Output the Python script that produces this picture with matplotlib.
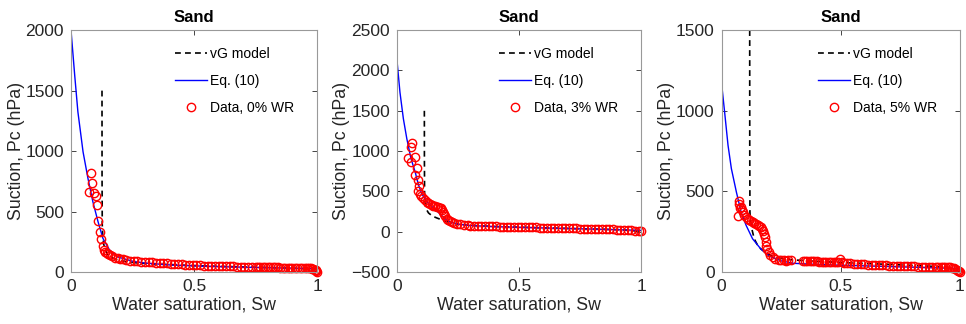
import matplotlib
matplotlib.use("Agg")
import matplotlib.pyplot as plt

plt.rcParams['font.family'] = ['Liberation Sans', 'DejaVu Sans']
plt.rcParams['font.size'] = 11

# ---- 0% WR ----
vg_sw_0 = [0.126, 0.1262, 0.127, 0.129, 0.133, 0.14, 0.15, 0.165, 0.19, 0.22, 0.26, 0.3, 0.4, 0.5, 0.6, 0.7, 0.8, 0.9, 0.96, 1.0]
vg_pc_0 = [1500, 800, 390, 300, 230, 180, 145, 120, 100, 88, 78, 72, 62, 54, 48, 43, 38, 33, 28, 0]
eq_sw_0 = [0.0, 0.015, 0.028, 0.049, 0.069, 0.089, 0.11, 0.13, 0.157, 0.19, 0.25, 0.3, 0.4, 0.5, 0.6, 0.7, 0.8, 0.9, 1.0]
eq_pc_0 = [2000, 1628, 1325, 994, 774, 581, 416, 278, 182, 126, 90, 75, 60, 52, 46, 41, 37, 33, 28]
data_sw_0 = [0.074, 0.081, 0.087, 0.095, 0.102, 0.107, 0.108, 0.118, 0.123, 0.129, 0.135, 0.14, 0.145,
             0.152, 0.159, 0.168, 0.179, 0.189, 0.199, 0.21, 0.225, 0.24, 0.255, 0.27, 0.285, 0.30,
             0.315, 0.33, 0.345, 0.36, 0.375, 0.39, 0.405, 0.42, 0.435, 0.45, 0.465, 0.48, 0.495,
             0.51, 0.525, 0.54, 0.555, 0.57, 0.585, 0.60, 0.615, 0.63, 0.645, 0.66, 0.675, 0.69,
             0.705, 0.72, 0.735, 0.75, 0.76, 0.77, 0.78, 0.79, 0.80, 0.81, 0.82, 0.83, 0.84, 0.85,
             0.86, 0.87, 0.88, 0.89, 0.90, 0.91, 0.92, 0.93, 0.94, 0.95, 0.96, 0.967, 0.974,
             0.98, 0.985, 0.99, 0.994, 0.997, 1.0]
data_pc_0 = [661, 820, 733, 655, 628, 553, 419, 328, 270, 215, 182, 170, 160,
             150, 140, 130, 121, 115, 110, 105, 100, 96, 93, 90, 87, 84,
             82, 80, 78, 76, 74, 72, 70, 68, 66, 64, 62, 60, 58,
             57, 56, 55, 54, 53, 52, 51, 50, 49, 48, 47, 46, 46,
             45, 44, 43, 43, 42, 42, 41, 41, 40, 40, 39, 39, 39, 38,
             38, 37, 37, 36, 36, 35, 35, 35, 34, 34, 33, 32, 31,
             29, 26, 21, 14, 7, 0]

# ---- 3% WR ----
vg_sw_3 = [0.112, 0.1122, 0.113, 0.115, 0.12, 0.129, 0.145, 0.163, 0.19, 0.22, 0.26, 0.3, 0.4, 0.5, 0.6, 0.7, 0.8, 0.9, 0.96, 1.0]
vg_pc_3 = [1500, 900, 420, 340, 280, 234, 195, 172, 140, 112, 92, 80, 66, 57, 49, 42, 35, 27, 18, 0]
eq_sw_3 = [0.0, 0.012, 0.026, 0.040, 0.057, 0.074, 0.088, 0.1, 0.12, 0.14, 0.16, 0.18, 0.2, 0.22, 0.25, 0.3, 0.4, 0.5, 0.6, 0.7, 0.8, 0.9, 1.0]
eq_pc_3 = [2119, 1730, 1402, 1156, 910, 745, 582, 480, 380, 320, 270, 210, 155, 118, 95, 78, 64, 56, 48, 41, 34, 26, 18]
data_sw_3 = [0.046, 0.056, 0.057, 0.063, 0.074, 0.080, 0.074, 0.085, 0.091, 0.087, 0.095, 0.10,
             0.107, 0.115, 0.121, 0.128, 0.135, 0.142, 0.149, 0.156, 0.162, 0.168, 0.175, 0.18,
             0.183, 0.188, 0.192, 0.197, 0.203, 0.21, 0.217, 0.225, 0.235, 0.245, 0.26, 0.275,
             0.29, 0.30, 0.315, 0.33, 0.345, 0.36, 0.375, 0.39, 0.405, 0.42, 0.435, 0.45, 0.465,
             0.48, 0.495, 0.51, 0.525, 0.54, 0.555, 0.57, 0.585, 0.60, 0.615, 0.63, 0.645, 0.66,
             0.675, 0.69, 0.705, 0.72, 0.735, 0.75, 0.765, 0.78, 0.795, 0.81, 0.825, 0.84, 0.855,
             0.87, 0.885, 0.90, 0.915, 0.93, 0.945, 0.96, 0.975, 0.99, 1.0]
data_pc_3 = [910, 868, 1053, 1107, 922, 787, 705, 643, 570, 500, 470, 438,
             415, 397, 375, 357, 342, 332, 323, 316, 310, 307, 300, 290,
             274, 250, 220, 192, 165, 145, 130, 118, 108, 102, 94, 88,
             82, 77, 75, 73, 71, 70, 69, 68, 66, 64, 63, 62, 61,
             60, 59, 58, 57, 56, 55, 54, 53, 52, 51, 50, 49, 48,
             47, 46, 45, 44, 42, 41, 40, 39, 37, 36, 35, 33, 32,
             30, 29, 27, 25, 23, 21, 18, 15, 12, 9]

# ---- 5% WR ----
vg_sw_5 = [0.118, 0.1182, 0.119, 0.121, 0.125, 0.137, 0.15, 0.164, 0.19, 0.22, 0.26, 0.3, 0.4, 0.5, 0.6, 0.7, 0.8, 0.9, 0.96, 1.0]
vg_pc_5 = [1500, 800, 372, 320, 280, 207, 170, 145, 115, 95, 82, 76, 67, 60, 54, 48, 42, 35, 26, 0]
eq_sw_5 = [0.0, 0.014, 0.027, 0.041, 0.062, 0.082, 0.103, 0.13, 0.164, 0.2, 0.25, 0.3, 0.4, 0.5, 0.6, 0.7, 0.8, 0.9, 1.0]
eq_pc_5 = [1169, 973, 786, 642, 497, 372, 290, 207, 145, 100, 70, 55, 48, 43, 39, 35, 31, 27, 22]
data_sw_5 = [0.068, 0.072, 0.075, 0.078, 0.082, 0.085, 0.089, 0.095, 0.103, 0.11, 0.117, 0.123,
             0.13, 0.137, 0.144, 0.151, 0.158, 0.164, 0.17, 0.174, 0.178, 0.181, 0.185, 0.188,
             0.192, 0.197, 0.205, 0.215, 0.226, 0.24, 0.25, 0.26, 0.27, 0.28, 0.29,
             0.34, 0.35, 0.36, 0.37, 0.38, 0.39, 0.40, 0.41, 0.42, 0.43, 0.44, 0.45, 0.46,
             0.47, 0.48, 0.49, 0.497, 0.505, 0.515, 0.525, 0.54, 0.555, 0.57, 0.585, 0.60,
             0.615, 0.63, 0.645, 0.66, 0.675, 0.69, 0.705, 0.72, 0.735, 0.75, 0.765, 0.78,
             0.795, 0.81, 0.825, 0.84, 0.855, 0.87, 0.885, 0.90, 0.91, 0.92, 0.93, 0.94, 0.95,
             0.96, 0.968, 0.975, 0.982, 0.988, 0.993, 0.997, 1.0]
data_pc_5 = [346, 420, 441, 400, 404, 385, 372, 355, 341, 330, 322, 317,
             310, 305, 300, 292, 286, 279, 265, 252, 238, 220, 186, 165,
             145, 125, 104, 92, 83, 78, 75, 73, 72, 73, 73,
             68, 70, 68, 69, 67, 70, 72, 66, 65, 64, 65, 62, 61,
             60, 60, 62, 83, 60, 58, 57, 55, 53, 52, 50, 49,
             47, 46, 45, 44, 43, 42, 41, 40, 39, 38, 38, 37,
             36, 36, 35, 35, 34, 34, 33, 33, 32, 32, 31, 31, 30,
             29, 27, 24, 20, 15, 10, 5, 0]

panels = [
    (vg_sw_0, vg_pc_0, eq_sw_0, eq_pc_0, data_sw_0, data_pc_0, "Data, 0% WR", (0, 2000), [0, 500, 1000, 1500, 2000]),
    (vg_sw_3, vg_pc_3, eq_sw_3, eq_pc_3, data_sw_3, data_pc_3, "Data, 3% WR", (-500, 2500), [-500, 0, 500, 1000, 1500, 2000, 2500]),
    (vg_sw_5, vg_pc_5, eq_sw_5, eq_pc_5, data_sw_5, data_pc_5, "Data, 5% WR", (0, 1500), [0, 500, 1000, 1500]),
]

# axes boxes in figure fractions: left, bottom, width, height
boxes = [
    [0.0735, 0.160, 0.2547, 0.747],
    [0.411, 0.160, 0.2526, 0.747],
    [0.747, 0.160, 0.2465, 0.747],
]

edge = '#262626'
fig = plt.figure(figsize=(9.66, 3.24), dpi=100)

for box, (vsw, vpc, esw, epc, dsw, dpc, dlabel, ylim, yticks) in zip(boxes, panels):
    ax = fig.add_axes(box)
    ax.plot(vsw, vpc, '--', color='k', lw=1.2, dashes=(3.5, 2.5), label='vG model')
    ax.plot(esw, epc, '-', color='#0000ff', lw=1.0, label='Eq. (10)')
    ax.plot(dsw, dpc, 'o', mfc='none', mec='#ff0000', ms=6.0, mew=1.0,
            label=dlabel, clip_on=False)
    ax.set_xlim(0, 1)
    ax.set_ylim(*ylim)
    ax.set_xticks([0, 0.5, 1])
    ax.set_xticklabels(['0', '0.5', '1'])
    ax.set_yticks(yticks)
    ax.tick_params(direction='in', length=3.5, width=0.6, top=True, right=True,
                   colors=edge, labelsize=12.5, pad=5)
    for s in ax.spines.values():
        s.set_color('#999999')
        s.set_linewidth(0.8)
    ax.set_title('Sand', fontweight='bold', fontsize=12, pad=6)
    ax.set_xlabel('Water saturation, Sw', fontsize=12.8, color=edge, labelpad=2)
    ax.set_ylabel('Suction, Pc (hPa)', fontsize=12.8, color=edge, labelpad=0.5)
    ax.legend(loc='upper right', bbox_to_anchor=(0.94, 0.965), frameon=False,
              fontsize=10, handlelength=2.3, handletextpad=0.2,
              labelspacing=0.95, numpoints=1, borderaxespad=0.2)

fig.savefig('out.png', dpi=100)
